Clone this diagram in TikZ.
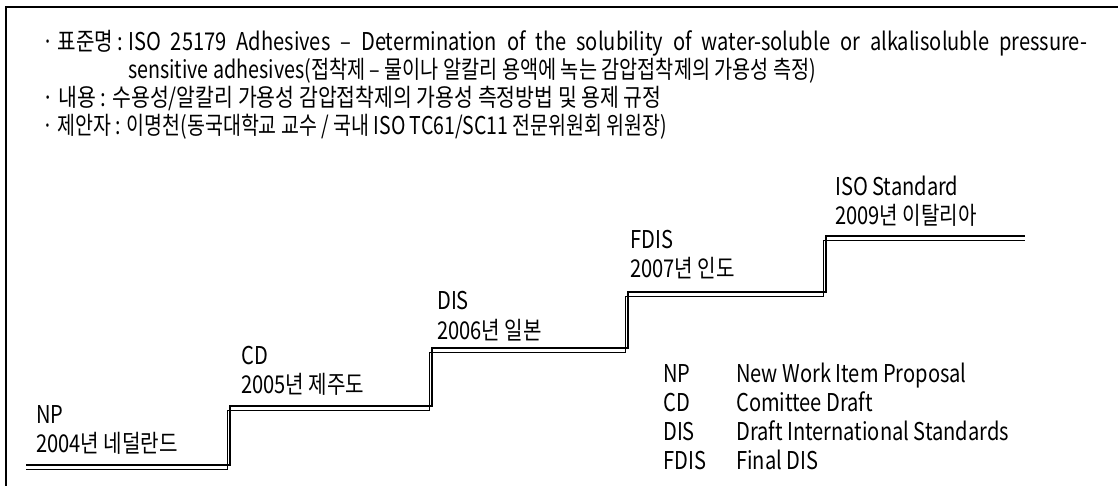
\documentclass[tikz,border=0pt]{standalone}
\usepackage{graphicx}
\usepackage{fontspec}
\setmainfont{Noto Sans CJK KR}[FakeStretch=0.82]
\begin{document}
\begin{tikzpicture}[x=1pt,y=-1pt,
  txt/.style={inner sep=0pt, anchor=base west, font=\fontsize{24.5}{28}\selectfont},
  frameline/.style={line width=1.4pt},
  thickline/.style={line width=2.3pt},
  thinline/.style={line width=0.9pt}]
\useasboundingbox (0,0) rectangle (1118,486);
\draw[frameline] (6,486) -- (6,7) -- (1118,7);

% header text
\node[txt] (r1a) at (42,51) {· 표준명 :};
\node[txt] (r1b) at (128,51) {\makebox[959pt][s]{ISO 25179 Adhesives – Determination of the solubility of water-soluble or alkalisoluble pressure-}};
\node[txt] (r2) at (128,79) {\scalebox{0.98}[1]{sensitive adhesives(접착제 – 물이나 알칼리 용액에 녹는 감압접착제의 가용성 측정)}};
\node[txt] (r3) at (42,107) {\scalebox{1.02}[1]{· 내용 : 수용성/알칼리 가용성 감압접착제의 가용성 측정방법 및 용제 규정}};
\node[txt] (r4) at (42,135) {\scalebox{0.97}[1]{· 제안자 : 이명천(동국대학교 교수 / 국내 ISO TC61/SC11 전문위원회 위원장)}};

% staircase
\coordinate (a0) at (26,465);
\coordinate (a1) at (230,465);
\coordinate (a2) at (230,406);
\coordinate (a3) at (432,406);
\coordinate (a4) at (432,348);
\coordinate (a5) at (628,348);
\coordinate (a6) at (628,292);
\coordinate (a7) at (826,292);
\coordinate (a8) at (826,236);
\coordinate (a9) at (1025,236);
\draw[thinline] ([shift={(0,4)}]a0) -- ([shift={(-3,4)}]a1) -- ([shift={(-3,4)}]a2)
  -- ([shift={(-3,4)}]a3) -- ([shift={(-3,4)}]a4) -- ([shift={(-3,4)}]a5)
  -- ([shift={(-3,4)}]a6) -- ([shift={(-3,4)}]a7) -- ([shift={(-3,4)}]a8)
  -- ([shift={(0,4)}]a9);
\draw[thickline] (a0) -- (a1) -- (a2) -- (a3) -- (a4) -- (a5) -- (a6) -- (a7) -- (a8) -- (a9);

% stage labels
\node[txt] (np1) at (36,423) {NP};
\node[txt] (np2) at (36,452) {2004년 네덜란드};
\node[txt] (cd1) at (241,364) {CD};
\node[txt] (cd2) at (241,393) {2005년 제주도};
\node[txt] (dis1) at (437,309) {DIS};
\node[txt] (dis2) at (437,339) {2006년 일본};
\node[txt] (fd1) at (630,248) {FDIS};
\node[txt] (fd2) at (630,277) {2007년 인도};
\node[txt] (iso1) at (835,196) {ISO Standard};
\node[txt] (iso2) at (835,225) {2009년 이탈리아};

% legend
\node[txt] (l1a) at (663,382) {NP};
\node[txt] (l1b) at (736,382) {New Work Item Proposal};
\node[txt] (l2a) at (663,411) {CD};
\node[txt] (l2b) at (736,411) {Comittee Draft};
\node[txt] (l3a) at (663,440) {DIS};
\node[txt] (l3b) at (736,440) {Draft International Standards};
\node[txt] (l4a) at (663,469) {FDIS};
\node[txt] (l4b) at (736,469) {Final DIS};
\end{tikzpicture}
\end{document}
